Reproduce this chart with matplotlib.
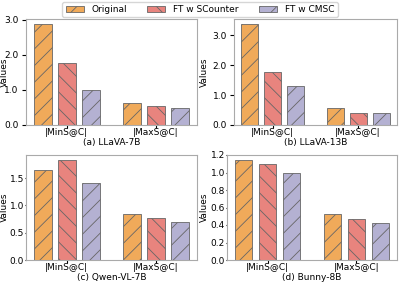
import numpy as np
import matplotlib
matplotlib.use('Agg')
import matplotlib.pyplot as plt

# data
groups = ['|MinS@C|', '|MaxS@C|']
methods = ['Original', 'FT w SCounter', 'FT w CMSC']
models = ['(a) LLaVA-7B', '(b) LLaVA-13B', '(c) Qwen-VL-7B', '(d) Bunny-8B']

llava7b = [[2.88, 0.64], [1.77, 0.53], [1.01, 0.49]]
llava13b = [[3.38, 0.58], [1.77, 0.40], [1.32, 0.40]]
qwen7b = [[1.64, 0.84], [1.83, 0.77], [1.40, 0.69]]
bunny8b = [[1.14, 0.53], [1.10, 0.47], [1.00, 0.42]]

colors = ['#F0AA5A', '#E8847E', '#B4B1D2']
hatches = ['//', '\\\\', '//']

plt.rcParams['font.size'] = 6.5
plt.rcParams['hatch.linewidth'] = 0.6
plt.rcParams['hatch.color'] = '#555555'

W, H = 400, 285
fig, axes = plt.subplots(2, 2, figsize=(4.0, 2.85), dpi=100)

# axes boxes in pixels (left, right, top, bottom)
boxes = [(26, 197, 19, 125), (234, 397, 19, 125),
         (26, 197, 155, 260), (227, 397, 155, 260)]
# x pixel of the right edge of the rotated 'Values' label
ylabel_x = [8.5, 209, 9, 209]
# y tick length / pad per panel
ytick_len = [3, 3, 1, 1]
ytick_pad = [2.5, 2, 0.5, 0.5]

x = np.arange(len(groups))
width = 0.2
offset = 0.27

for k, (ax, name, vals) in enumerate(zip(axes.flat, models, [llava7b, llava13b, qwen7b, bunny8b])):
    l, r, t, b = boxes[k]
    ax.set_position([l / W, 1 - b / H, (r - l) / W, (b - t) / H])
    for i, m in enumerate(methods):
        ax.bar(x + (i - 1) * offset, vals[i], width, color=colors[i], hatch=hatches[i],
               edgecolor='#666666', linewidth=0.6, label=m)
    ax.set_xticks(x)
    ax.set_xticklabels(groups)
    ax.set_xlabel(name, labelpad=0.5)
    ax.set_ylabel('Values')
    ax.yaxis.set_label_coords((ylabel_x[k] - l) / (r - l), 0.5)
    ax.tick_params(axis='y', pad=ytick_pad[k], length=ytick_len[k])
    ax.tick_params(axis='x', pad=0.5, length=2)
    for s in ax.spines.values():
        s.set_color('#aaaaaa')

for ax in axes[0]:
    ax.set_yticks([0, 1, 2, 3])
    ax.set_yticklabels(['0.0', '1.0', '2.0', '3.0'])
axes[1, 1].set_yticks(np.arange(0, 1.21, 0.2))
axes[1, 1].set_ylim(0, 1.2)

handles, labels = axes[0, 0].get_legend_handles_labels()
fig.legend(handles, labels, loc='upper center', bbox_to_anchor=(0.5, 1.0), ncol=3,
           fontsize=6.5, frameon=True, handlelength=2.0, columnspacing=2.2,
           borderpad=0.35, handletextpad=0.9, borderaxespad=0.2)

fig.savefig('out.png', dpi=100)
